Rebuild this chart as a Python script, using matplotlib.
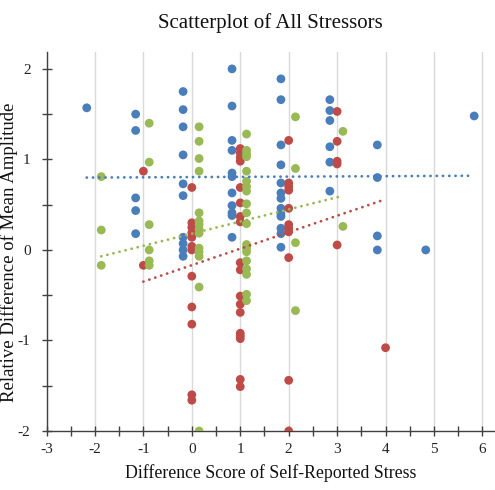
import matplotlib
matplotlib.use("Agg")
import matplotlib.pyplot as plt
from matplotlib.ticker import MultipleLocator
import numpy as np

# ─── DONNÉES ─────────────────────────────────────────────────────────────────
# chaque série : positions x des colonnes, puis les valeurs y de chaque colonne

BLUE_COLS = [-2.17, -1.16, -0.18, 0.83, 1.84, 2.85, 3.83, 4.83, 5.83]
BLUE_VALS = [
    [1.57],
    [1.50, 1.32, 0.575, 0.435, 0.18],
    [1.75, 1.55, 1.36, 1.05, 0.73, 0.60, 0.14, 0.07, 0.0, -0.07],
    [2.0, 1.59, 1.21, 1.10, 0.85, 0.81, 0.63, 0.49, 0.41, 0.38, 0.14],
    [1.89, 1.66, 1.16, 0.94, 0.74, 0.63, 0.57, 0.46, 0.40, 0.37, 0.24, 0.18, 0.03],
    [1.66, 1.54, 1.43, 1.14, 0.97, 0.65],
    [1.16, 0.80, 0.155, 0.0],
    [0.0],
    [1.48],
]

RED_COLS = [-1.0, 0.0, 1.0, 2.0, 3.0, 4.0]
RED_VALS = [
    [0.87, -0.17],
    [0.69, 0.30, 0.25, 0.19, 0.14, 0.04, 0.0, -0.29, -0.63, -0.82, -1.60, -1.66],
    [1.12, 1.07, 1.02, 0.98, 0.69, 0.52, 0.37, 0.31, -0.14, -0.22, -0.51, -0.60,
     -0.69, -0.92, -0.95, -0.98, -1.43, -1.51],
    [1.21, 0.74, 0.70, 0.66, 0.46, 0.28, 0.24, 0.20, -0.085, -1.44, -2.0],
    [1.53, 1.20, 0.98, 0.95, 0.055],
    [-1.08],
]

GREEN_COLS = [-1.87, -0.88, 0.15, 1.13, 2.14, 3.12]
GREEN_VALS = [
    [0.81, 0.22, -0.17],
    [1.40, 0.97, 0.28, 0.0, -0.12, -0.17],
    [1.36, 1.20, 1.01, 0.87, 0.41, 0.32, 0.28, 0.23, 0.185, 0.02, -0.02, -0.07,
     -0.41, -2.0],
    [1.28, 1.10, 1.06, 1.03, 0.87, 0.76, 0.70, 0.65, 0.51, 0.41, 0.29, 0.06,
     0.02, -0.02, -0.12, -0.21, -0.27, -0.49, -0.56],
    [1.47, 0.90, 0.08, -0.67],
    [1.31, 0.26],
]

# courbes de tendance (pente, ordonnée à l'origine)
TREND_BLUE = (0.0025, 0.805)
TREND_RED = (0.182, -0.168)
TREND_GREEN = (0.134, 0.18)

X_TICKS = [-3, -2, -1, 0, 1, 2, 3, 4, 5, 6]
Y_TICKS = [-2, -1, 0, 1, 2]

# ─── STYLE ───────────────────────────────────────────────────────────────────

plt.rcParams["font.family"] = ["Liberation Serif", "DejaVu Serif"]
plt.rcParams["axes.unicode_minus"] = False

COULEURS = {"blue": "#4a7ebb", "red": "#be4b48", "green": "#98b954"}


def colonnes(cols, vals):
    xs = [c for c, v in zip(cols, vals) for _ in v]
    ys = [y for v in vals for y in v]
    return np.array(xs), np.array(ys)


fig = plt.figure(figsize=(4.95, 4.90), dpi=100)
ax = fig.add_axes([0.094, 0.1204, 0.906, 0.7741])

series = [
    ("blue", BLUE_COLS, BLUE_VALS, TREND_BLUE),
    ("red", RED_COLS, RED_VALS, TREND_RED),
    ("green", GREEN_COLS, GREEN_VALS, TREND_GREEN),
]

for nom, cols, vals, _ in series:
    xs, ys = colonnes(cols, vals)
    ax.scatter(xs, ys, s=40, color=COULEURS[nom], edgecolors="none", zorder=3)

for nom, cols, vals, (pente, origine) in series:
    xx = np.array([min(cols), max(cols)])
    ax.plot(xx, pente * xx + origine, color=COULEURS[nom], linewidth=2.0,
            linestyle=(0, (0.05, 2.2)), dash_capstyle="round", zorder=4)

ax.set_xlim(-3, 6.26)
ax.set_ylim(-2, 2.19)

ax.set_xticks(X_TICKS)
ax.set_yticks(Y_TICKS)
ax.xaxis.set_minor_locator(MultipleLocator(0.5))
ax.yaxis.set_minor_locator(MultipleLocator(0.5))
ax.tick_params(which="both", direction="inout", length=7, width=1,
               color="#404040", labelsize=11, labelcolor="#222222")
ax.tick_params(axis="y", pad=8)
ax.tick_params(axis="x", pad=5)

ax.xaxis.grid(True, which="major", color="#d9d9d9", linewidth=1)
ax.set_axisbelow(True)

ax.spines[["top", "right"]].set_visible(False)
ax.spines[["left", "bottom"]].set_color("#404040")
ax.spines[["left", "bottom"]].set_linewidth(1)

ax.set_title("Scatterplot of All Stressors", fontsize=15, color="#111111", pad=17)
ax.set_xlabel("Difference Score of Self-Reported Stress", fontsize=12.8,
              color="#111111", labelpad=6)
ax.set_ylabel("Relative Difference of Mean Amplitude", fontsize=13.5,
              color="#111111", va="center")
ax.yaxis.set_label_coords(-0.083, 0.47)

fig.savefig("out.png", dpi=100)
